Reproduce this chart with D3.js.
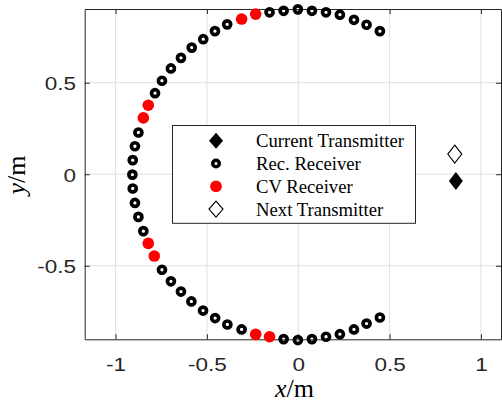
<!DOCTYPE html>
<html>
<head>
<meta charset="utf-8">
<script src="https://d3js.org/d3.v7.min.js"></script>
<style>
  body { margin: 0; background: #fff; }
  .tick text { font-family: "Liberation Sans", Arial, sans-serif; font-size: 18px; fill: #262626; }
  .legend text { font-family: "Liberation Serif", "Times New Roman", serif; font-size: 18.7px; fill: #000; }
  .label { font-family: "Liberation Serif", "Times New Roman", serif; font-size: 26px; fill: #000; }
</style>
</head>
<body>
<svg width="502" height="405"></svg>
<script>
// recorded receivers (black rings)
var recX = [0.447, 0.374, 0.305, 0.228, 0.152, 0.075, -0.002, -0.080, -0.157,
            -0.389, -0.456, -0.520, -0.583, -0.642, -0.697, -0.746, -0.784,
            -0.875, -0.894, -0.906, -0.908, -0.906, -0.894, -0.875, -0.848,
            -0.746, -0.697, -0.642, -0.585, -0.521, -0.455, -0.388, -0.310,
            -0.080, -0.002, 0.075, 0.152, 0.228, 0.305, 0.374, 0.447];
var recY = [0.782, 0.817, 0.844, 0.872, 0.885, 0.893, 0.901, 0.893, 0.885,
            0.819, 0.782, 0.738, 0.692, 0.636, 0.578, 0.511, 0.443,
            0.228, 0.153, 0.077, -0.002, -0.078, -0.157, -0.233, -0.311,
            -0.522, -0.585, -0.641, -0.695, -0.745, -0.786, -0.821, -0.848,
            -0.901, -0.906, -0.901, -0.888, -0.874, -0.848, -0.816, -0.783];
// CV receivers (red)
var cvX = [-0.233, -0.310, -0.821, -0.848, -0.821, -0.788, -0.233, -0.157];
var cvY = [0.875, 0.848, 0.377, 0.308, -0.378, -0.447, -0.875, -0.888];
// transmitters
var currentTx = [0.863, -0.037];
var nextTx = [0.857, 0.110];

var xTicks = [-1, -0.5, 0, 0.5, 1];
var xTickLabels = ["-1", "-0.5", "0", "0.5", "1"];
var yTicks = [-0.5, 0, 0.5];
var yTickLabels = ["-0.5", "0", "0.5"];
var legendNames = ["Current Transmitter", "Rec. Receiver", "CV Receiver", "Next Transmitter"];

var pLeft = 84.7, pRight = 501, pTop = 9, pBottom = 339.3;
var x = d3.scaleLinear().domain([-1.169, 1.11]).range([pLeft, pRight]);
var y = d3.scaleLinear().domain([-0.902, 0.903]).range([pBottom, pTop]);

var svg = d3.select("svg");
var axisColor = "#262626";

// grid
svg.append("g").selectAll("line").data(xTicks).enter().append("line")
  .attr("x1", d => x(d)).attr("x2", d => x(d)).attr("y1", pTop).attr("y2", pBottom)
  .attr("stroke", "#dfdfdf").attr("stroke-width", 1);
svg.append("g").selectAll("line").data(yTicks).enter().append("line")
  .attr("y1", d => y(d)).attr("y2", d => y(d)).attr("x1", pLeft).attr("x2", pRight)
  .attr("stroke", "#dfdfdf").attr("stroke-width", 1);

// axes
var gx = svg.append("g").attr("transform", "translate(0," + pBottom + ")")
  .call(d3.axisBottom(x).tickValues(xTicks).tickFormat((d, i) => xTickLabels[i])
    .tickSizeInner(-5).tickSizeOuter(0).tickPadding(18.5));
var gy = svg.append("g").attr("transform", "translate(" + pLeft + ",0)")
  .call(d3.axisLeft(y).tickValues(yTicks).tickFormat((d, i) => yTickLabels[i])
    .tickSizeInner(-5).tickSizeOuter(0).tickPadding(8.7));
var gt = svg.append("g").attr("transform", "translate(0," + pTop + ")")
  .call(d3.axisTop(x).tickValues(xTicks).tickFormat("").tickSizeInner(-5).tickSizeOuter(0));
var gr = svg.append("g").attr("transform", "translate(" + pRight + ",0)")
  .call(d3.axisRight(y).tickValues(yTicks).tickFormat("").tickSizeInner(-5).tickSizeOuter(0));

[gx, gy, gt, gr].forEach(function(g) {
  g.attr("font-size", null).attr("font-family", null);
  g.selectAll("line").attr("stroke", axisColor);
  g.select(".domain").attr("stroke", axisColor).attr("stroke-width", 1);
});
gy.selectAll("text").attr("dy", "0.4em");
// the original tick font is a wide Helvetica: stretch glyphs horizontally
svg.selectAll(".tick text").each(function() {
  var t = d3.select(this);
  var w = this.getComputedTextLength();
  if (w > 0) t.attr("textLength", w * 1.25).attr("lengthAdjust", "spacingAndGlyphs");
});

function diamond(w, h) {
  return "M0," + (-h) + "L" + w + ",0L0," + h + "L" + (-w) + ",0Z";
}

// markers
svg.append("g").selectAll("circle").data(d3.range(recX.length)).enter().append("circle")
  .attr("cx", i => x(recX[i])).attr("cy", i => y(recY[i])).attr("r", 3.5)
  .attr("fill", "none").attr("stroke", "#000").attr("stroke-width", 3.7);
svg.append("g").selectAll("circle").data(d3.range(cvX.length)).enter().append("circle")
  .attr("cx", i => x(cvX[i])).attr("cy", i => y(cvY[i])).attr("r", 5.8)
  .attr("fill", "#ff0000");
svg.append("path").attr("d", diamond(7, 9))
  .attr("transform", "translate(" + x(currentTx[0]) + "," + y(currentTx[1]) + ")")
  .attr("fill", "#000");
svg.append("path").attr("d", diamond(7, 9))
  .attr("transform", "translate(" + x(nextTx[0]) + "," + y(nextTx[1]) + ")")
  .attr("fill", "#fff").attr("stroke", "#000").attr("stroke-width", 1.1);

// legend
var lg = svg.append("g").attr("class", "legend");
lg.append("rect").attr("x", 172.5).attr("y", 125.5).attr("width", 243).attr("height", 97.8)
  .attr("fill", "#fff").attr("stroke", axisColor).attr("stroke-width", 1);
var rows = lg.selectAll("g.row").data(legendNames).enter().append("g")
  .attr("class", "row")
  .attr("transform", (d, i) => "translate(216," + (140.8 + i * 22.75) + ")");
rows.append("text").attr("x", 40).attr("y", 6.6).text(d => d);
rows.each(function(d, i) {
  var r = d3.select(this);
  if (i === 0) r.append("path").attr("d", diamond(7, 8)).attr("fill", "#000");
  if (i === 1) r.append("circle").attr("r", 3.3).attr("fill", "none").attr("stroke", "#000").attr("stroke-width", 3.5);
  if (i === 2) r.append("circle").attr("r", 5.9).attr("fill", "#ff0000");
  if (i === 3) r.append("path").attr("d", diamond(7, 8)).attr("fill", "#fff").attr("stroke", "#000").attr("stroke-width", 1.1);
});

// axis labels
var xl = svg.append("text").attr("class", "label").attr("x", 294.5).attr("y", 397)
  .attr("text-anchor", "middle");
xl.append("tspan").attr("font-style", "italic").text("x");
xl.append("tspan").text("/m");
var yl = svg.append("text").attr("class", "label").attr("text-anchor", "middle")
  .attr("transform", "translate(24.5,175) rotate(-90)");
yl.append("tspan").attr("font-style", "italic").text("y");
yl.append("tspan").text("/m");
</script>
</body>
</html>
